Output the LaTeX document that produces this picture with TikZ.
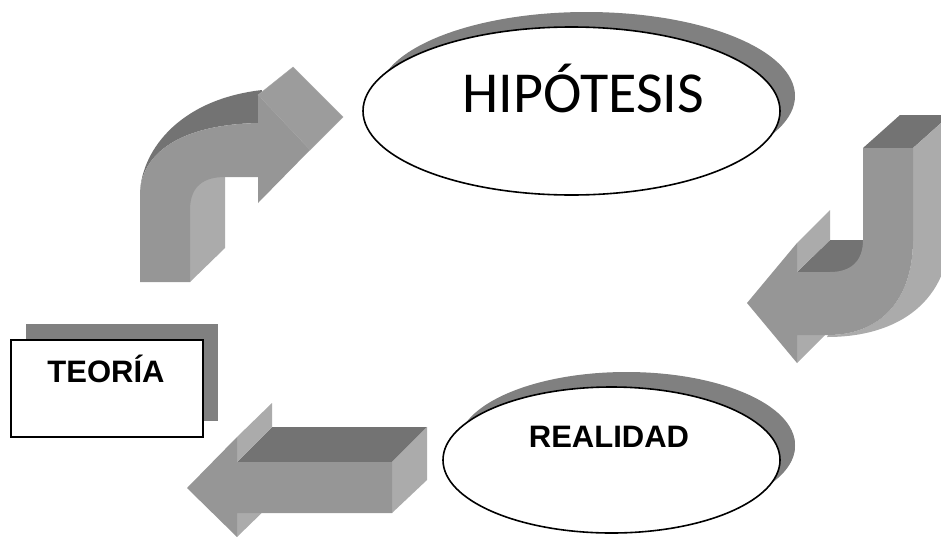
\documentclass[tikz,border=0pt]{standalone}
\usepackage{fontspec}
\setmainfont{Liberation Sans}
\newfontfamily\hipfont{Carlito}
\usetikzlibrary{shapes.geometric, shadows}
\definecolor{frontgray}{gray}{0.59}
\definecolor{topgray}{gray}{0.45}
\definecolor{sidegray}{gray}{0.67}
\definecolor{capgray}{gray}{0.61}
\definecolor{shadegray}{gray}{0.5}

\begin{document}
\begin{tikzpicture}[x=1pt, y=-1pt,
    front/.style={fill=frontgray},
    top/.style={fill=topgray},
    side/.style={fill=sidegray},
    oval/.style={ellipse, draw, line width=1.6pt, fill=white, inner sep=0pt,
        drop shadow={shadow xshift=15pt, shadow yshift=15pt, fill=shadegray, opacity=1}},
    txt/.style={inner sep=0pt, anchor=base}]
    \useasboundingbox (0,0) rectangle (941,536);
    \clip (0,0) rectangle (941,536);

    \fill[top] (140,195) .. controls (140,155) and (175,100) .. (262,90) -- (258,123) .. controls (170,125) and (140,160) .. (140,195) -- cycle;
    \fill[side] (190,282) -- (225,248) -- (225,177) -- (190,177) -- cycle;
    \fill[capgray, draw=sidegray] (258,95) -- (293,67) -- (343,117) -- (310,150) -- cycle;
    \fill[front] (140,282) -- (140,195) .. controls (140,160) and (170,125) .. (258,123) -- (258,95) -- (310,150) -- (258,203) -- (258,177) -- (225,177) .. controls (205,177) and (190,185) .. (190,210) -- (190,282) -- cycle;

    \fill[top] (863,148) -- (900,115) -- (950,115) -- (913,148) -- cycle;
    \fill[side] (913,148) -- (950,115) -- (950,230) .. controls (950,300) and (900,337) .. (827,337) -- (828,335) .. controls (880,335) and (913,300) .. (913,240) -- cycle;
    \fill[top] (797,272) -- (830,240) -- (863,240) -- (863,272) -- cycle;
    \fill[side] (797,243) -- (830,210) -- (830,240) -- (797,272) -- cycle;
    \fill[side] (797,335) -- (830,302) -- (830,330) -- (797,363) -- cycle;
    \fill[front] (747,303) -- (797,243) -- (797,272) -- (830,272) .. controls (850,272) and (863,262) .. (863,240) -- (863,148) -- (913,148) -- (913,240) .. controls (913,300) and (880,335) .. (828,335) -- (797,335) -- (797,363) -- cycle;

    \fill[top] (237,462) -- (272,427) -- (427,427) -- (392,462) -- cycle;
    \fill[side] (392,462) -- (427,427) -- (427,480) -- (392,513) -- cycle;
    \fill[side] (237,437) -- (272,403) -- (272,427) -- (237,462) -- cycle;
    \fill[side] (237,513) -- (272,479) -- (272,503) -- (237,537) -- cycle;
    \fill[front] (187,488) -- (237,437) -- (237,462) -- (392,462) -- (392,513) -- (237,513) -- (237,537) -- cycle;

    \node[oval, minimum width=417pt, minimum height=168pt] (hip) at (571.5,111) {};
    \node[txt, font=\hipfont\fontsize{58}{58}\selectfont] (hiptext) at (583.5,112) {HIPÓTESIS};

    \node[oval, minimum width=337pt, minimum height=146pt,
        drop shadow={shadow xshift=15pt, shadow yshift=14pt, fill=shadegray, opacity=1}] (real) at (611.5,460) {};
    \node[txt, font=\bfseries\fontsize{31}{31}\selectfont] (realtext) at (609,447) {REALIDAD};

    \node[draw, line width=1.6pt, fill=white, minimum width=192pt, minimum height=97pt, inner sep=0pt,
        drop shadow={shadow xshift=15pt, shadow yshift=16pt, fill=shadegray, opacity=1}] (teo) at (107,388.5) {};
    \node[txt, font=\bfseries\fontsize{31}{31}\selectfont] (teotext) at (106,382) {TEORÍA};
\end{tikzpicture}
\end{document}
